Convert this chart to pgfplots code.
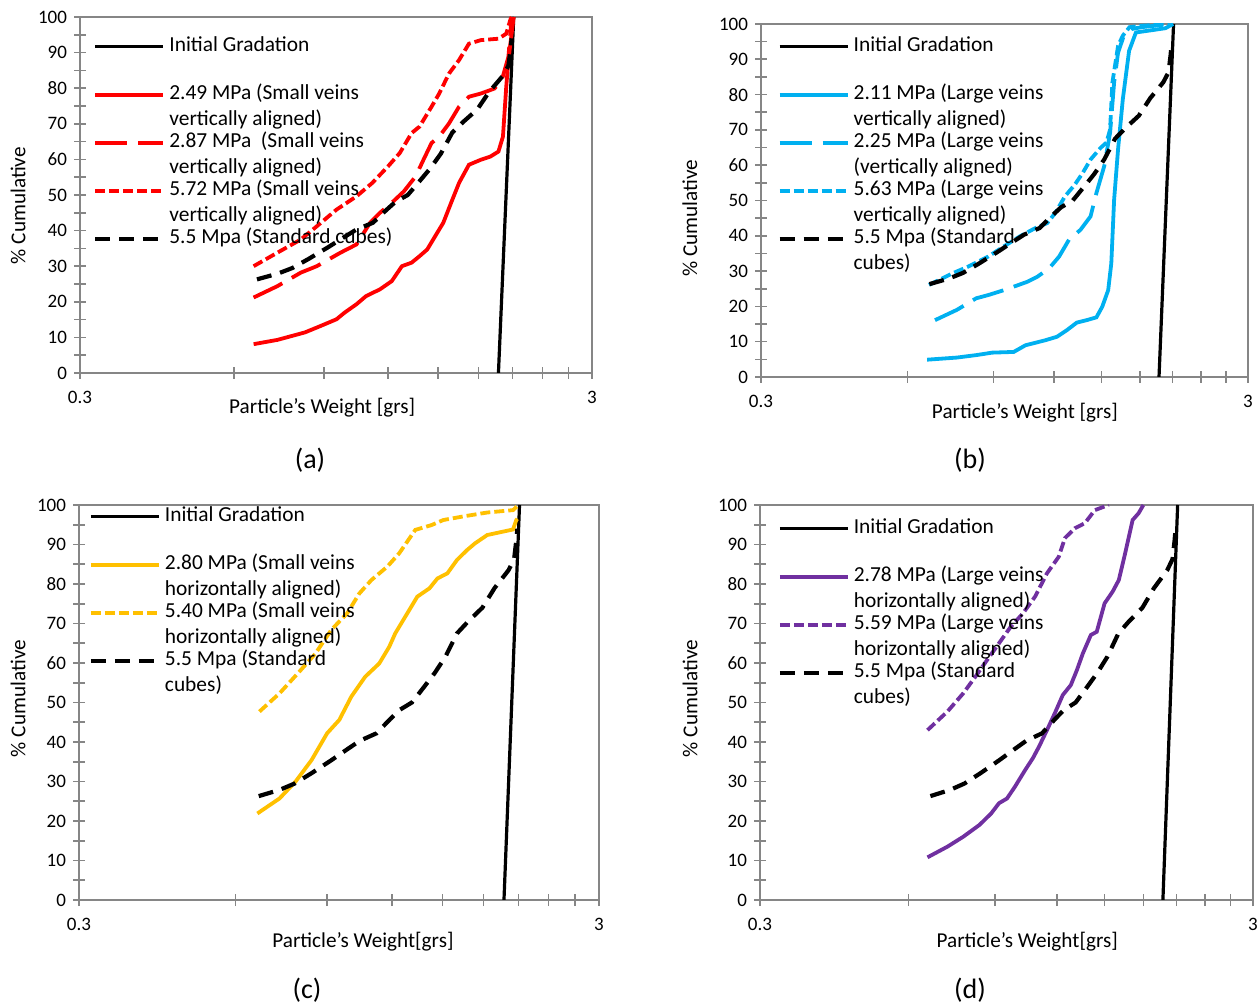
\documentclass[border=0pt]{standalone}
\usepackage{pgfplots}
\usepackage{pgfplotstable}
\pgfplotsset{compat=1.18}
\usepackage{fontspec}
\setmainfont{Carlito}
\definecolor{cred}{HTML}{FF0000}
\definecolor{cblue}{HTML}{00B0F0}
\definecolor{cgold}{HTML}{FFC000}
\definecolor{cpurp}{HTML}{7030A0}
\definecolor{axgray}{HTML}{868686}
\newcommand\lgt[1]{\smash{\begin{tabular}[t]{@{}l@{}}#1\end{tabular}}}

\pgfplotstableread{
x y
1.97 0
2.11 100
}\inittab
\pgfplotstableread{
x y
0.665 26.3
0.73 27.9
0.78 29.5
0.84 32.1
0.915 35.3
0.985 38.2
1.04 40.3
1.12 42.2
1.19 45.8
1.24 48.1
1.31 50.0
1.38 53.8
1.45 57.5
1.52 61.6
1.60 67.5
1.68 70.5
1.79 74.0
1.89 79.0
2.01 83.5
2.06 86.3
2.08 91
2.09 94
}\stdtab

\pgfplotsset{
 mypanel/.style={
  scale only axis, xmin=0.3, xmax=3, ymin=0, ymax=100,
  xtick={0.3,3}, xticklabels={0.3,3},
  minor xtick={0.6,0.9,1.2,1.5,1.8,2.1,2.4,2.7},
  ytick={0,10,...,100}, minor ytick={5,15,...,95},
  tick align=center, tick pos=left,
  major tick length=6pt, minor tick length=6pt,
  every tick/.append style={axgray, line width=0.8pt},
  axis line style={axgray, line width=1pt},
  ticklabel style={font=\fontsize{9.5}{11}\selectfont},
  xticklabel style={yshift=-2.5pt},
  label style={font=\fontsize{10.6}{12}\selectfont},
  legend cell align=left,
  legend image code/.code={\draw[##1] (0pt,4.5pt) -- (34pt,4.5pt);},
  legend style={draw=none, fill=none, anchor=north west, inner sep=0pt,
    nodes={inner sep=0pt, text height=10pt, text depth=14pt, font=\fontsize{10.7}{13}\selectfont},
    column sep=2pt, row sep=0pt},
 },
 initg/.style={black, line width=1.6pt},
 stdc/.style={black, line width=2.1pt, dash pattern=on 7.5pt off 4.5pt},
 solidc/.style={#1, line width=1.9pt},
 longc/.style={#1, line width=1.9pt, dash pattern=on 16pt off 5.5pt},
 shortc/.style={#1, line width=1.9pt, dash pattern=on 5pt off 2pt},
}

\begin{document}
\begin{tikzpicture}
\useasboundingbox (0,0) rectangle (630pt,504pt);

% (a)
\begin{axis}[xmode=log, mypanel, at={(40pt,317.5pt)}, anchor=south west, width=256pt, height=178pt,
  xlabel={Particle's Weight [grs]}, ylabel={\% Cumulative},
  xlabel style={at={(axis description cs:0.473,-0.098)}, anchor=center},
  ylabel style={at={(axis description cs:-0.121,0.47)}, anchor=center},
  legend style={at={(axis description cs:0.025,0.9596)}},
  /pgf/number format/assume math mode=true]
\addplot[initg] table {\inittab};
\addlegendentry{\lgt{Initial Gradation}}
\addplot[solidc=cred] table {
0.655 8.1
0.729 9.3
0.825 11.4
0.885 13.2
0.951 15.1
0.987 17
1.04 19.3
1.086 21.6
1.156 23.5
1.219 25.8
1.276 30
1.333 31
1.381 32.8
1.43 34.7
1.496 39.4
1.537 42.2
1.592 47.8
1.65 53.4
1.725 58.5
1.82 59.9
1.90 60.8
1.97 62.2
2.01 66.4
2.04 80.4
2.06 87.9
2.09 95.3
2.11 100
};
\addlegendentry{\lgt{2.49 MPa (Small veins\\vertically aligned)}}
\addplot[longc=cred] table {
0.655 21.2
0.729 24.4
0.81 28.2
0.87 30
0.968 33.8
1.04 36.1
1.106 42.2
1.156 45
1.219 47.8
1.287 51
1.357 55.2
1.406 59.9
1.458 64.6
1.509 66.4
1.577 70.1
1.65 74.8
1.725 77.6
1.82 78.5
1.935 79.9
2.00 82.3
2.06 88.8
2.09 100
};
\addlegendentry{\lgt{2.87 MPa\ \ (Small veins\\vertically aligned)}}
\addplot[shortc=cred] table {
0.655 30
0.729 33.8
0.81 37.5
0.87 41.2
0.951 45.9
1.04 49.6
1.117 53.4
1.198 58
1.264 61.8
1.333 67.4
1.381 69.2
1.458 74.8
1.509 78.5
1.577 84.1
1.65 87.9
1.725 92.5
1.82 93.5
1.97 93.9
2.04 95.3
2.08 99.4
2.09 100
};
\addlegendentry{\lgt{5.72 MPa (Small veins\\vertically aligned)}}
\addplot[stdc] table {\stdtab};
\addlegendentry{\lgt{5.5 Mpa (Standard cubes)}}
\end{axis}

% (b)
\begin{axis}[xmode=log, mypanel, at={(380.5pt,315.5pt)}, anchor=south west, width=243.5pt, height=176.5pt,
  xlabel={Particle's Weight [grs]}, ylabel={\% Cumulative},
  xlabel style={at={(axis description cs:0.542,-0.102)}, anchor=center},
  ylabel style={at={(axis description cs:-0.146,0.45)}, anchor=center},
  legend style={at={(axis description cs:0.033,0.979)}},
  /pgf/number format/assume math mode=true]
\addplot[initg] table {\inittab};
\addlegendentry{\lgt{Initial Gradation}}
\addplot[solidc=cblue] table {
0.658 4.9
0.757 5.5
0.830 6.2
0.895 6.9
0.991 7.1
1.048 9
1.098 9.7
1.15 10.4
1.216 11.4
1.275 13.3
1.335 15.4
1.399 16.1
1.465 16.9
1.506 19.9
1.549 24.6
1.572 32.2
1.593 50.2
1.623 64.5
1.66 78.7
1.71 92.4
1.766 97.6
2.03 98.8
2.106 100
};
\addlegendentry{\lgt{2.11 MPa (Large veins\\vertically aligned)}}
\addplot[longc=cblue] table {
0.683 16.1
0.757 19
0.830 22.3
0.878 23.2
0.946 24.6
1.001 25.8
1.058 27
1.108 28.4
1.172 30.8
1.228 34.1
1.287 38.9
1.359 41.7
1.425 45.5
1.465 52.1
1.52 59.7
1.563 69.2
1.593 83.4
1.623 91.9
1.668 96.7
1.733 98.6
1.815 99.1
2.08 100
};
\addlegendentry{\lgt{2.25 MPa (Large veins\\(vertically aligned)}}
\addplot[shortc=cblue] table {
0.664 26.1
0.743 29.4
0.80 31.3
0.878 34.1
0.946 37
1.019 39.8
1.098 42.2
1.161 43.6
1.205 46.4
1.263 51.2
1.323 54.5
1.373 57.8
1.425 61.6
1.494 64.9
1.536 66.4
1.563 70.1
1.58 83.4
1.623 93.8
1.66 96.7
1.713 99.1
1.815 99.5
2.07 100
};
\addlegendentry{\lgt{5.63 MPa (Large veins\\vertically aligned)}}
\addplot[stdc] table {\stdtab};
\addlegendentry{\lgt{5.5 Mpa (Standard\\cubes)}}
\end{axis}

% (c)
\begin{axis}[xmode=log, mypanel, at={(39.5pt,54pt)}, anchor=south west, width=260pt, height=197.5pt,
  xlabel={Particle's Weight[grs]}, ylabel={\% Cumulative},
  xlabel style={at={(axis description cs:0.546,-0.106)}, anchor=center},
  ylabel style={at={(axis description cs:-0.117,0.51)}, anchor=center},
  legend style={at={(axis description cs:0.018,1.009)}},
  /pgf/number format/assume math mode=true]
\addplot[initg] table {\inittab};
\addlegendentry{\lgt{Initial Gradation}}
\addplot[solidc=cgold] table {
0.661 21.9
0.729 25.7
0.783 30
0.840 35.4
0.90 42.2
0.950 45.6
1.002 51.5
1.065 56.5
1.134 59.9
1.185 64.1
1.217 67.5
1.284 72.6
1.342 76.8
1.416 78.9
1.467 81.4
1.533 82.7
1.60 86.1
1.673 88.6
1.733 90.3
1.829 92.4
2.05 93.8
2.08 96.2
2.09 96.5
};
\addlegendentry{\lgt{2.80 MPa (Small veins\\horizontally aligned)}}
\addplot[shortc=cgold] table {
0.667 47.7
0.729 52.3
0.796 57.8
0.855 62.4
0.917 68.4
0.984 72.6
1.038 77.6
1.095 81
1.175 84.4
1.239 87.8
1.33 93.7
1.428 94.9
1.506 96.2
1.66 97.2
1.83 98.1
2.05 98.7
2.1 100
};
\addlegendentry{\lgt{5.40 MPa (Small veins\\horizontally aligned)}}
\addplot[stdc] table {\stdtab};
\addlegendentry{\lgt{5.5 Mpa (Standard\\cubes)}}
\end{axis}

% (d)
\begin{axis}[xmode=log, mypanel, at={(380pt,54pt)}, anchor=south west, width=246.5pt, height=197.5pt,
  xlabel={Particle's Weight[grs]}, ylabel={\% Cumulative},
  xlabel style={at={(axis description cs:0.542,-0.106)}, anchor=center},
  ylabel style={at={(axis description cs:-0.142,0.51)}, anchor=center},
  legend style={at={(axis description cs:0.035,0.979)}},
  /pgf/number format/assume math mode=true]
\addplot[initg] table {\inittab};
\addlegendentry{\lgt{Initial Gradation}}
\addplot[solidc=cpurp] table {
0.656 10.8
0.72 13.5
0.775 16
0.836 19
0.883 21.9
0.916 24.5
0.951 25.7
0.987 28.7
1.035 32.9
1.073 35.9
1.104 38.8
1.146 43
1.189 47.3
1.234 51.9
1.281 54.4
1.318 58.2
1.355 62.4
1.407 67.1
1.446 67.9
1.50 75.1
1.558 78.1
1.603 81
1.648 87.3
1.71 96.2
1.758 97.9
1.798 100
};
\addlegendentry{\lgt{2.78 MPa (Large veins\\horizontally aligned)}}
\addplot[shortc=cpurp] table {
0.656 43
0.72 47.7
0.775 52.3
0.82 56.5
0.867 60.8
0.916 65
0.968 69.2
1.025 72.6
1.084 76.8
1.146 82.7
1.211 86.9
1.246 91.6
1.305 94.1
1.368 95.4
1.433 98.7
1.529 100
};
\addlegendentry{\lgt{5.59 MPa (Large veins\\horizontally aligned)}}
\addplot[stdc] table {\stdtab};
\addlegendentry{\lgt{5.5 Mpa (Standard\\cubes)}}
\end{axis}

\node[font=\fontsize{14}{16}\selectfont] at (155pt,274pt) {(a)};
\node[font=\fontsize{14}{16}\selectfont] at (485pt,274pt) {(b)};
\node[font=\fontsize{14}{16}\selectfont] at (153.5pt,9pt) {(c)};
\node[font=\fontsize{14}{16}\selectfont] at (485pt,9pt) {(d)};
\end{tikzpicture}
\end{document}
